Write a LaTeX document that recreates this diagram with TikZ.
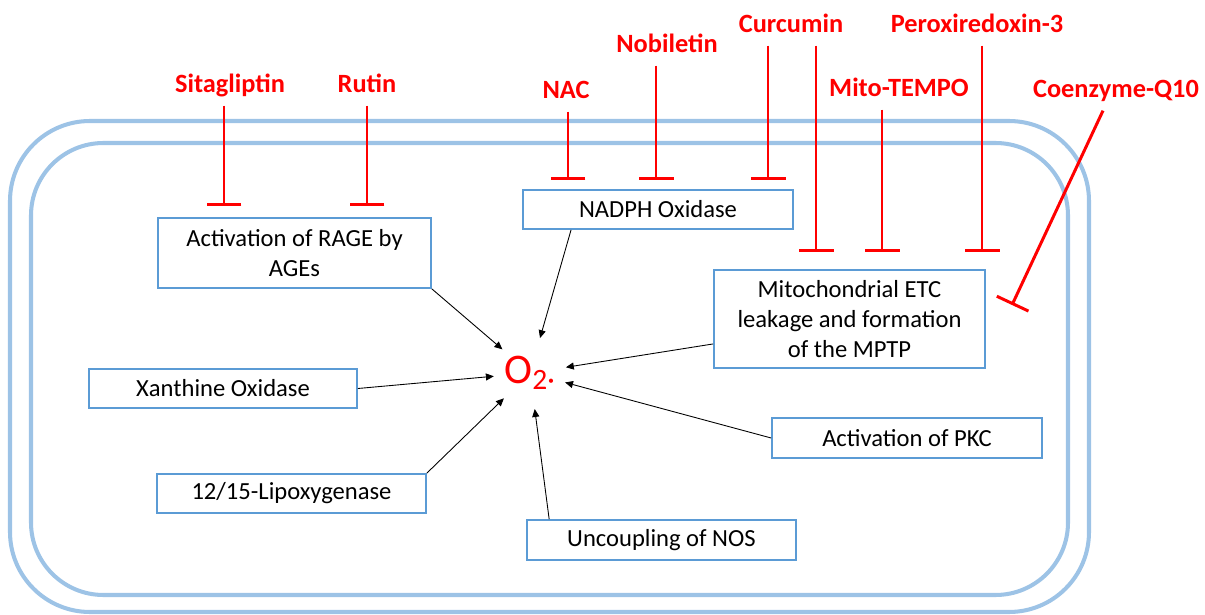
\documentclass[tikz,border=0pt]{standalone}
\usepackage{fontspec}
\setmainfont{Carlito}
\usetikzlibrary{arrows.meta,calc}
\definecolor{cellblue}{HTML}{9DC3E6}
\definecolor{boxblue}{HTML}{5B9BD5}
\begin{document}
\begin{tikzpicture}[x=0.02cm, y=-0.02cm,
    box/.style={draw=boxblue, line width=1pt, align=center, font=\fontsize{14}{17}\selectfont, minimum width=5.4cm, minimum height=0.78cm, inner sep=2pt},
    drug/.style={text=red, font=\fontsize{15}{18}\selectfont\bfseries, anchor=base, text depth=0pt, inner sep=7pt},
    inhib/.style={red, line width=1.7pt, -{Bar[width=0.7cm]}},
    act/.style={black, line width=0.5pt, -{Triangle[length=4.5pt,width=4pt]}}]
    \useasboundingbox (0,0) rectangle (1205,615);
    % cell membrane
    \draw[cellblue, line width=2.3pt, rounded corners=1.6cm] (10,121) rectangle (1089,612);
    \draw[cellblue, line width=2.3pt, rounded corners=1.45cm] (31,143) rectangle (1068,595);

    % superoxide
    \node[circle, minimum size=1.44cm, inner sep=0pt, text=red, font=\fontsize{24}{24}\selectfont] (o2) at (530,373) {O\textsubscript{2·}};

    % sources
    \node[box, minimum width=5.46cm, minimum height=1.4cm] (rage) at (294.5,253) {Activation of RAGE by\\AGEs};
    \node[box] (nadph) at (658,209.5) {NADPH Oxidase};
    \node[box, minimum width=5.42cm, minimum height=1.96cm] (mito) at (849.5,319) {Mitochondrial ETC\\leakage and formation\\of the MPTP};
    \node[box, minimum width=5.36cm] (xo) at (223,388.5) {Xanthine Oxidase};
    \node[box, minimum width=5.38cm] (lox) at (291.5,493.5) {12/15-Lipoxygenase};
    \node[box, minimum width=5.38cm, minimum height=0.8cm] (nos) at (661.5,540) {Uncoupling of NOS};
    \node[box, minimum height=0.8cm] (pkc) at (907,438) {Activation of PKC};

    \draw[act] (rage.south east) -- (o2);
    \draw[act] ($(nadph.south west)!0.18!(nadph.south east)$) -- (o2);
    \draw[act] ($(mito.south west)!0.25!(mito.north west)$) -- (o2);
    \draw[act] (xo.east) -- (o2);
    \draw[act] (lox.north east) -- (o2);
    \draw[act] ($(nos.north west)!0.085!(nos.north east)$) -- (o2);
    \draw[act] (pkc.west) -- (o2);

    % inhibitors
    \node[drug] (sita) at (230,93) {Sitagliptin};
    \node[drug] (rutin) at (367,93) {Rutin};
    \node[drug] (nac) at (566,99) {NAC};
    \node[drug] (nob) at (667,53) {Nobiletin};
    \node[drug] (curc) at (791,33) {Curcumin};
    \node[drug] (mtempo) at (899,97) {Mito-TEMPO};
    \node[drug] (prx) at (977,33) {Peroxiredoxin-3};
    \node[drug] (coq) at (1116,98) {Coenzyme-Q10};

    \coordinate (sitaT) at (224,206);
    \coordinate (rutinT) at (367,206);
    \coordinate (nacT) at (568,180);
    \coordinate (nobT) at (656,180);
    \coordinate (curcA) at (768,180);
    \coordinate (curcB) at (816,252);
    \coordinate (mtempoT) at (882,252);
    \coordinate (prxT) at (982,252);
    \coordinate (coqT) at (1012,305);

    \draw[inhib] (sita.south -| sitaT) -- (sitaT);
    \draw[inhib] (rutin.south -| rutinT) -- (rutinT);
    \draw[inhib] (nac.south -| nacT) -- (nacT);
    \draw[inhib] (nob.south -| nobT) -- (nobT);
    \draw[inhib] (curc.south -| curcA) -- (curcA);
    \draw[inhib] (curc.south -| curcB) -- (curcB);
    \draw[inhib] (mtempo.south -| mtempoT) -- (mtempoT);
    \draw[inhib] (prx.south -| prxT) -- (prxT);
    \draw[inhib] ([xshift=-0.26cm]coq.south) -- (coqT);
\end{tikzpicture}
\end{document}
